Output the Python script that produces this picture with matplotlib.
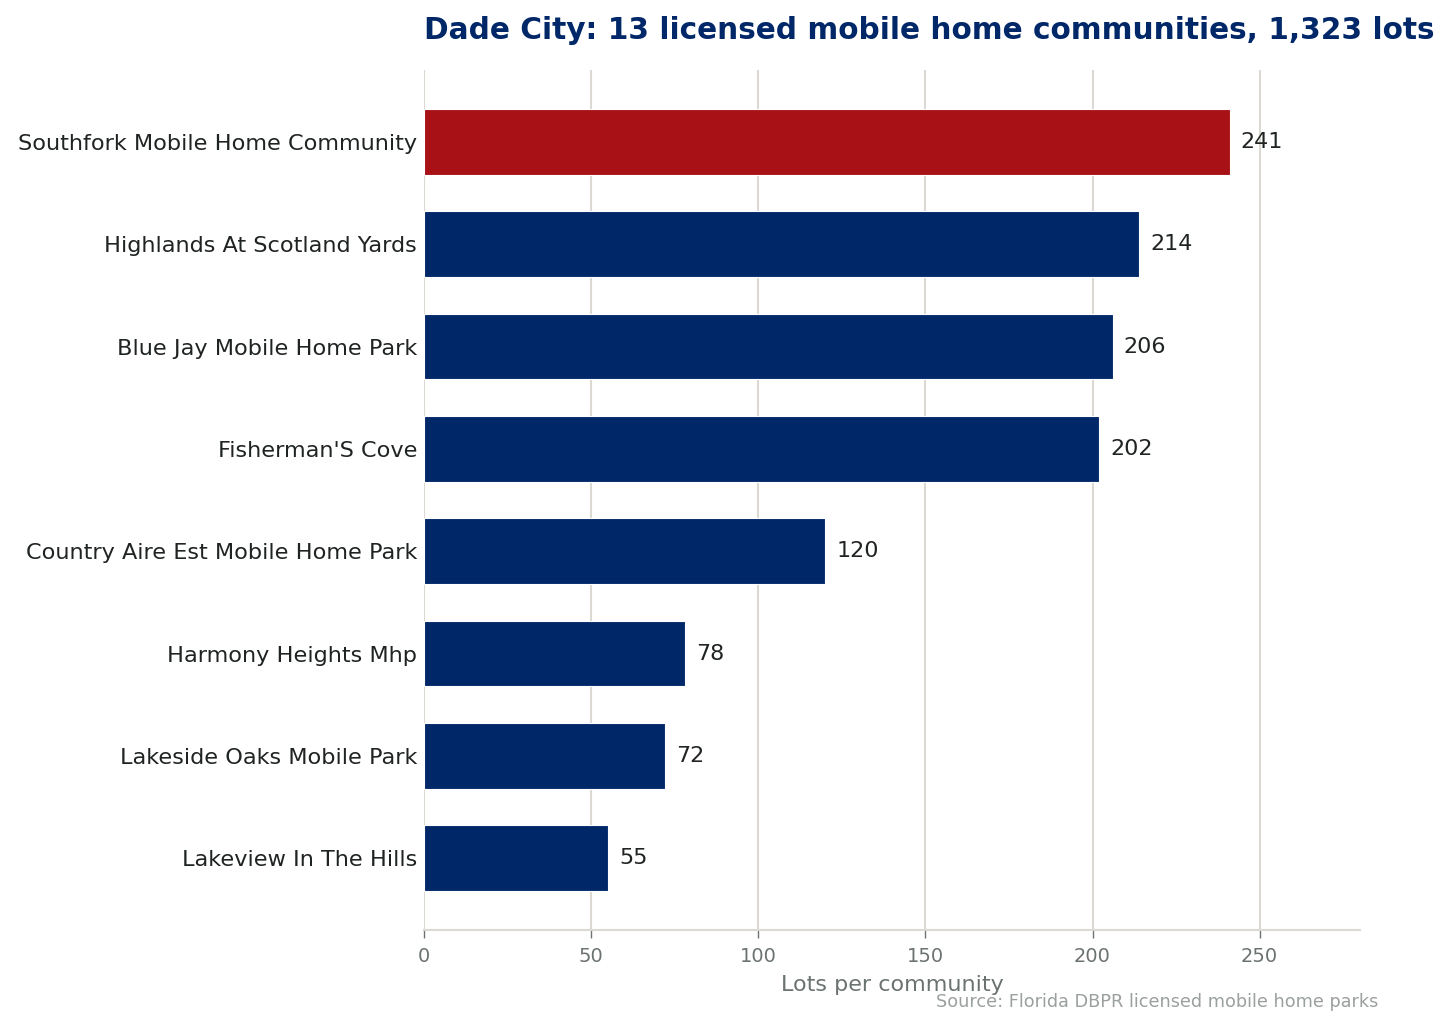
import matplotlib
matplotlib.use("Agg")
import matplotlib.pyplot as plt

# datos de la grafica
comunidades = [
    "Southfork Mobile Home Community",
    "Highlands At Scotland Yards",
    "Blue Jay Mobile Home Park",
    "Fisherman'S Cove",
    "Country Aire Est Mobile Home Park",
    "Harmony Heights Mhp",
    "Lakeside Oaks Mobile Park",
    "Lakeview In The Hills",
]
lotes = [241, 214, 206, 202, 120, 78, 72, 55]
destacado = 0  # indice de la barra en rojo

titulo = "Dade City: 13 licensed mobile home communities, 1,323 lots"
etiquetaX = "Lots per community"
fuente = "Source: Florida DBPR licensed mobile home parks"

azul = "#002868"
rojo = "#A81115"
gris_grid = "#dcd9d2"
texto = "#1f2421"
gris_ticks = "#6b7370"

fig = plt.figure(figsize=(14.48, 10.30), dpi=100)
ax = fig.add_axes([0.2928, 0.0971, 0.6464, 0.8349])

colores = [rojo if i == destacado else azul for i in range(len(lotes))]
posiciones = list(range(len(lotes)))
barras = ax.barh(posiciones, lotes, height=0.64, color=colores, edgecolor="white", linewidth=0.8, zorder=2)
ax.invert_yaxis()

ax.set_yticks(posiciones)
ax.set_yticklabels(comunidades, fontsize=16.1, color=texto)
ax.tick_params(axis="y", length=0, pad=5)

ax.set_xlim(0, 280)
ax.set_xticks([0, 50, 100, 150, 200, 250])
ax.tick_params(axis="x", colors=gris_ticks, labelsize=14, length=6, width=1, pad=6)
ax.set_xlabel(etiquetaX, fontsize=16, color=gris_ticks, labelpad=7)

ax.grid(axis="x", color=gris_grid, linewidth=1.5, zorder=0)
ax.set_axisbelow(True)
for lado in ["top", "right", "left"]:
    ax.spines[lado].set_visible(False)
ax.spines["bottom"].set_color(gris_grid)
ax.spines["bottom"].set_linewidth(1.5)

for b, v in zip(barras, lotes):
    ax.text(v + 3.3, b.get_y() + b.get_height() / 2, str(v), va="center", ha="left", fontsize=16, color=texto, zorder=3)

ax.set_title(titulo, loc="left", fontsize=21.3, fontweight="bold", color=azul, pad=22)
fig.text(0.952, 0.018, fuente, ha="right", va="bottom", fontsize=12.7, color="#9aa09d")

fig.savefig("out.png", dpi=100)
